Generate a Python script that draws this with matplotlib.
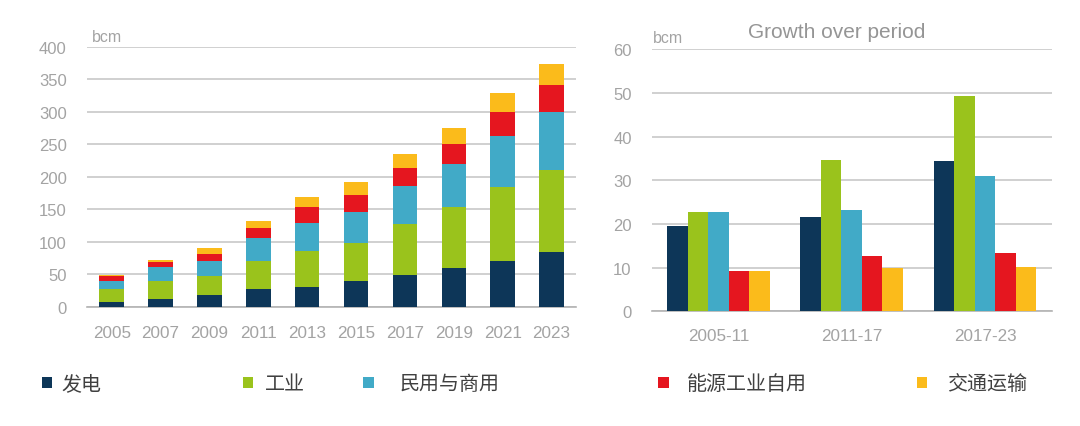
import numpy as np
import matplotlib
matplotlib.use("Agg")
import matplotlib.pyplot as plt
from matplotlib.patches import Rectangle

plt.rcParams['font.family'] = ['Liberation Sans', 'Noto Sans CJK SC', 'DejaVu Sans']

# ---- data ----
years = ['2005', '2007', '2009', '2011', '2013', '2015', '2017', '2019', '2021', '2023']
power = [7, 12, 18.5, 27, 30, 39.5, 49, 59, 71, 84]
industry = [20, 28, 28.5, 43, 56, 58.5, 78, 94, 113, 126]
residential = [13, 20.5, 23, 35, 43, 48, 58, 66.5, 78, 89]
energy_own = [7, 9, 11, 15.5, 24, 26, 28, 30.5, 38, 42]
transport = [2, 2.5, 9, 11.5, 15, 20, 22, 25, 29, 32]

periods = ['2005-11', '2011-17', '2017-23']
g_power = [19.5, 21.7, 34.4]
g_industry = [22.7, 34.7, 49.2]
g_residential = [22.7, 23.1, 30.9]
g_energy_own = [9.2, 12.7, 13.4]
g_transport = [9.2, 9.9, 10.2]

names = ['发电', '工业', '民用与商用', '能源工业自用', '交通运输']
colors = ['#0d3658', '#9ac31c', '#41aac7', '#e5161f', '#fbbb1b']

TICK = '#a3a3a3'
GRID = '#c4c4c4'

fig = plt.figure(figsize=(10.8, 4.27), dpi=100)

# ---- left: stacked bars ----
ax1 = fig.add_axes([0.0808, 0.2794, 0.4525, 0.6089])
x = np.arange(len(years))
bottom = np.zeros(len(years))
for vals, c in zip([power, industry, residential, energy_own, transport], colors):
    ax1.bar(x, vals, width=0.5, bottom=bottom, color=c, zorder=3)
    bottom += np.array(vals)
ax1.set_xlim(-0.5, len(years) - 0.5)
ax1.set_ylim(0, 400)
ax1.set_yticks(np.arange(0, 401, 50))
ax1.set_xticks(x)
ax1.set_xticklabels(years)
ax1.text(0.009, 1.023, 'bcm', transform=ax1.transAxes, fontsize=11.5,
         color=TICK, va='baseline', ha='left')

# ---- right: grouped bars ----
ax2 = fig.add_axes([0.6034, 0.2686, 0.3704, 0.6136])
xp = np.arange(len(periods))
bw = 0.154
series = [g_power, g_industry, g_residential, g_energy_own, g_transport]
for i, (vals, c) in enumerate(zip(series, colors)):
    ax2.bar(xp + (i - 2) * bw, vals, width=bw, color=c, zorder=3)
ax2.set_xlim(-0.5, len(periods) - 0.5)
ax2.set_ylim(0, 60)
ax2.set_yticks(np.arange(0, 61, 10))
ax2.set_xticks(xp)
ax2.set_xticklabels(periods)
ax2.text(0.004, 1.027, 'bcm', transform=ax2.transAxes, fontsize=11.5,
         color=TICK, va='baseline', ha='left')
ax2.text(0.4625, 1.046, 'Growth over period', transform=ax2.transAxes,
         fontsize=15, color='#959595', va='baseline', ha='center')

for ax, ypad, xpad in [(ax1, 14.8, 13.5), (ax2, 14.4, 12)]:
    ax.set_axisbelow(True)
    ax.yaxis.grid(True, color=GRID, linewidth=1.1)
    for s in ['top', 'right', 'left']:
        ax.spines[s].set_visible(False)
    ax.spines['bottom'].set_color('#b3b3b3')
    ax.spines['bottom'].set_linewidth(1.2)
    ax.tick_params(axis='y', length=0, pad=ypad, labelsize=12, labelcolor=TICK)
    ax.tick_params(axis='x', length=0, pad=xpad, labelsize=12.3, labelcolor=TICK)

# ---- legend along the bottom ----
sq_x = [41.7, 242.7, 363.3, 658.3, 916.7]
txt_x = [61.7, 265, 400, 686.7, 946.7]
W, H = 1080, 427
for sx, tx, name, c in zip(sq_x, txt_x, names, colors):
    fig.patches.append(Rectangle((sx / W, (H - 389) / H), 10.7 / W, 10.7 / H,
                                 transform=fig.transFigure, facecolor=c,
                                 edgecolor='none'))
    fig.text(tx / W, (H - 385) / H, name, fontsize=14.4, color='#404040',
             va='center', ha='left', family=['Noto Sans CJK SC', 'DejaVu Sans'])

fig.savefig('out.png', dpi=100, facecolor='white')
